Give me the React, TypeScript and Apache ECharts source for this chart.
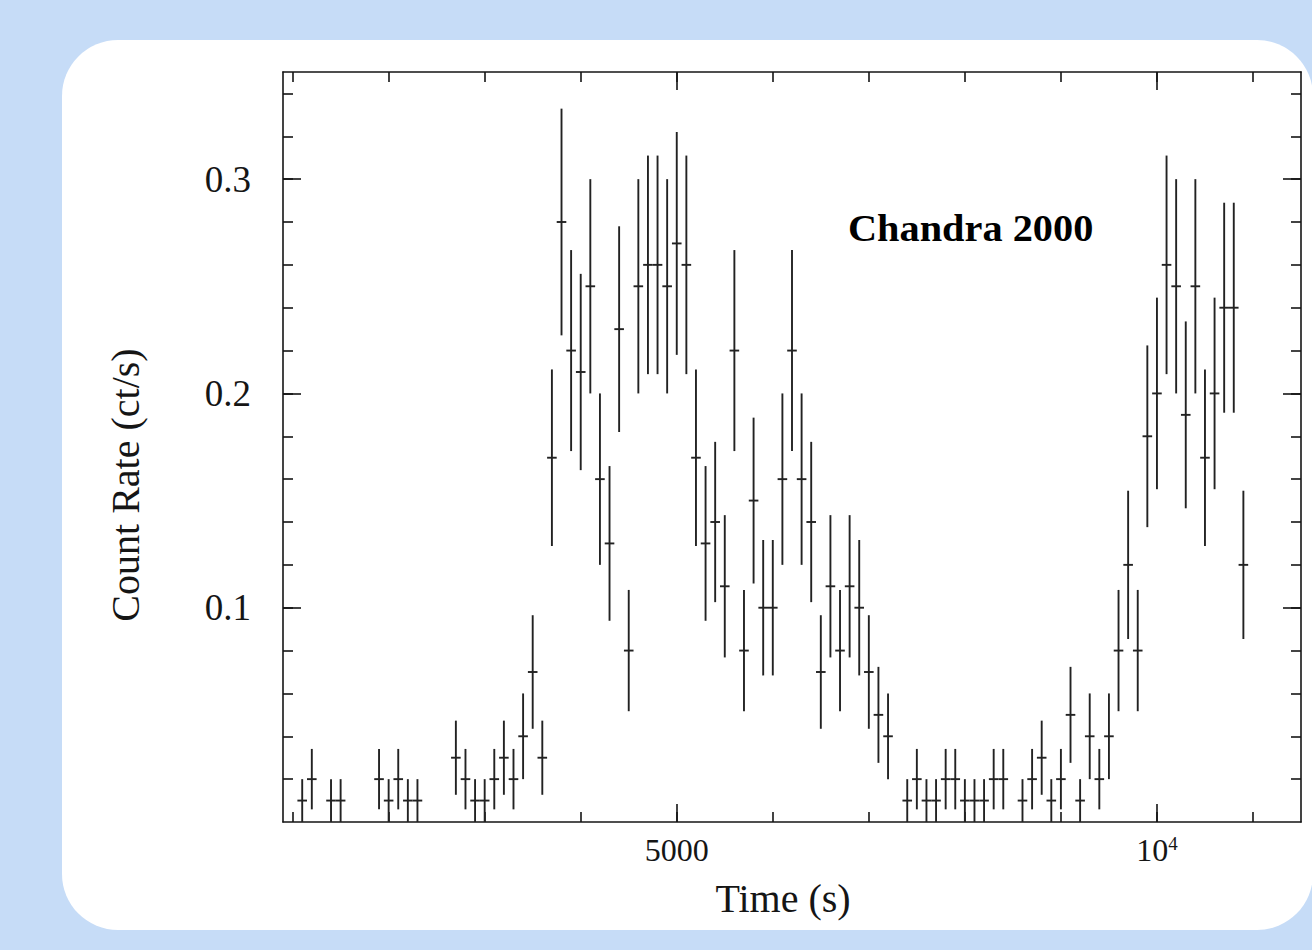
import React, { useEffect, useRef } from "react";
import * as echarts from "echarts";

// ---- data ----
const binHalfWidth = 50; // s, half of the 100 s bin
const times = [
  1100, 1200, 1400, 1500, 1900, 2000, 2100, 2200, 2300, 2700, 2800, 2900, 3000, 3100, 3200, 3300, 3400, 3500, 3600,
  3700, 3800, 3900, 4000, 4100, 4200, 4300, 4400, 4500, 4600, 4700, 4800, 4900, 5000, 5100, 5200, 5300, 5400, 5500,
  5600, 5700, 5800, 5900, 6000, 6100, 6200, 6300, 6400, 6500, 6600, 6700, 6800, 6900, 7000, 7100, 7200, 7400, 7500,
  7600, 7700, 7800, 7900, 8000, 8100, 8200, 8300, 8400, 8600, 8700, 8800, 8900, 9000, 9100, 9200, 9300, 9400, 9500,
  9600, 9700, 9800, 9900, 10000, 10100, 10200, 10300, 10400, 10500, 10600, 10700, 10800, 10900,
];
const rates = [
  0.01, 0.02, 0.01, 0.01, 0.02, 0.01, 0.02, 0.01, 0.01, 0.03, 0.02, 0.01, 0.01, 0.02, 0.03, 0.02, 0.04, 0.07, 0.03,
  0.17, 0.28, 0.22, 0.21, 0.25, 0.16, 0.13, 0.23, 0.08, 0.25, 0.26, 0.26, 0.25, 0.27, 0.26, 0.17, 0.13, 0.14, 0.11,
  0.22, 0.08, 0.15, 0.1, 0.1, 0.16, 0.22, 0.16, 0.14, 0.07, 0.11, 0.08, 0.11, 0.1, 0.07, 0.05, 0.04, 0.01, 0.02,
  0.01, 0.01, 0.02, 0.02, 0.01, 0.01, 0.01, 0.02, 0.02, 0.01, 0.02, 0.03, 0.01, 0.02, 0.05, 0.01, 0.04, 0.02, 0.04,
  0.08, 0.12, 0.08, 0.18, 0.2, 0.26, 0.25, 0.19, 0.25, 0.17, 0.2, 0.24, 0.24, 0.12,
];
const errors = [
  0.01, 0.0141, 0.01, 0.01, 0.0141, 0.01, 0.0141, 0.01, 0.01, 0.0173, 0.0141, 0.01, 0.01, 0.0141, 0.0173, 0.0141, 0.02, 0.0265, 0.0173,
  0.0412, 0.0529, 0.0469, 0.0458, 0.05, 0.04, 0.0361, 0.048, 0.0283, 0.05, 0.051, 0.051, 0.05, 0.052, 0.051, 0.0412, 0.0361, 0.0374, 0.0332,
  0.0469, 0.0283, 0.0387, 0.0316, 0.0316, 0.04, 0.0469, 0.04, 0.0374, 0.0265, 0.0332, 0.0283, 0.0332, 0.0316, 0.0265, 0.0224, 0.02, 0.01, 0.0141,
  0.01, 0.01, 0.0141, 0.0141, 0.01, 0.01, 0.01, 0.0141, 0.0141, 0.01, 0.0141, 0.0173, 0.01, 0.0141, 0.0224, 0.01, 0.02, 0.0141, 0.02,
  0.0283, 0.0346, 0.0283, 0.0424, 0.0447, 0.051, 0.05, 0.0436, 0.05, 0.0412, 0.0447, 0.049, 0.049, 0.0346,
];

// ---- axes / tick labels ----
const xMajorTicks = [5000, 10000];
const xMinorTicks = [1000, 2000, 3000, 4000, 5000, 6000, 7000, 8000, 9000, 10000, 11000];
const yMajorTicks = [0.1, 0.2, 0.3];
const yMinorTicks = [0.02, 0.04, 0.06, 0.08, 0.1, 0.12, 0.14, 0.16, 0.18, 0.2, 0.22, 0.24, 0.26, 0.28, 0.3, 0.32, 0.34];
const xTitle = "Time (s)";
const yTitle = "Count Rate (ct/s)";
const annotation = "Chandra 2000";

const INK = "#151515";
const SERIF = "'Liberation Serif', 'Times New Roman', serif";

export default function App() {
  const ref = useRef<HTMLDivElement>(null);

  useEffect(() => {
    if (!ref.current) return;
    const chart = echarts.init(ref.current, undefined, { renderer: "svg" });

    const xRange = { min: 900, max: 11500 };
    const yRange = { min: 0, max: 0.35 };

    const mkX = (position: string, ticks: number[], len: number, showLine: boolean, labels: boolean) => ({
      type: "value",
      position,
      ...xRange,
      axisLine: { show: showLine, onZero: false, lineStyle: { color: INK, width: 1.6 } },
      axisTick: { show: true, inside: true, length: len, customValues: ticks, lineStyle: { color: INK, width: 1.6 } },
      axisLabel: labels
        ? {
            show: true,
            customValues: ticks,
            margin: 12,
            color: INK,
            fontFamily: SERIF,
            fontSize: 32,
            formatter: (v: number) => (v === 10000 ? "10{sup|4}" : String(v)),
            rich: { sup: { fontSize: 19, fontFamily: SERIF, color: INK, verticalAlign: "top", padding: [0, 0, 13, 0] } },
          }
        : { show: false },
      splitLine: { show: false },
    });
    const mkY = (position: string, ticks: number[], len: number, showLine: boolean, labels: boolean) => ({
      type: "value",
      position,
      ...yRange,
      axisLine: { show: showLine, onZero: false, lineStyle: { color: INK, width: 1.6 } },
      axisTick: { show: true, inside: true, length: len, customValues: ticks, lineStyle: { color: INK, width: 1.6 } },
      axisLabel: labels
        ? { show: true, customValues: ticks, margin: 32, color: INK, fontFamily: SERIF, fontSize: 37 }
        : { show: false },
      splitLine: { show: false },
    });

    const data = times.map((t, i) => [t, rates[i], errors[i]]);

    chart.setOption({
      animation: false,
      backgroundColor: "#c6dcf7",
      grid: { left: 283, top: 72, right: 11, bottom: 128, containLabel: false },
      xAxis: [
        mkX("bottom", xMajorTicks, 18, true, true),
        mkX("bottom", xMinorTicks, 10, false, false),
        mkX("top", xMajorTicks, 18, true, false),
        mkX("top", xMinorTicks, 10, false, false),
      ],
      yAxis: [
        mkY("left", yMajorTicks, 18, true, true),
        mkY("left", yMinorTicks, 10, false, false),
        mkY("right", yMajorTicks, 18, true, false),
        mkY("right", yMinorTicks, 10, false, false),
      ],
      graphic: [
        {
          type: "rect",
          z: -100,
          shape: { x: 62, y: 40, width: 1251, height: 890, r: 56 },
          style: { fill: "#ffffff" },
          silent: true,
        },
        {
          type: "text",
          x: 783,
          y: 898,
          style: { text: xTitle, font: `40px ${SERIF}`, fill: INK, align: "center", verticalAlign: "middle" },
        },
        {
          type: "text",
          x: 125,
          y: 485,
          rotation: Math.PI / 2,
          style: { text: yTitle, font: `40px ${SERIF}`, fill: INK, align: "center", verticalAlign: "middle" },
        },
        {
          type: "text",
          x: 848,
          y: 229,
          scaleX: 1.09,
          style: { text: annotation, font: `bold 37px ${SERIF}`, fill: "#000", align: "left", verticalAlign: "middle" },
        },
      ],
      series: [
        {
          type: "custom",
          xAxisIndex: 0,
          yAxisIndex: 0,
          data,
          encode: { x: 0, y: 1 },
          renderItem: (_params: any, api: any) => {
            const t = api.value(0);
            const r = api.value(1);
            const e = api.value(2);
            const pL = api.coord([t - binHalfWidth, r]);
            const pR = api.coord([t + binHalfWidth, r]);
            const pT = api.coord([t, r + e]);
            const pB = api.coord([t, r - e]);
            const style = { stroke: "#222222", lineWidth: 1.9 };
            return {
              type: "group",
              children: [
                { type: "line", shape: { x1: pL[0], y1: pL[1], x2: pR[0], y2: pR[1] }, style },
                { type: "line", shape: { x1: pT[0], y1: pT[1], x2: pB[0], y2: pB[1] }, style },
              ],
            };
          },
        },
      ],
    });

    return () => chart.dispose();
  }, []);

  return <div ref={ref} style={{ position: "fixed", left: 0, top: 0, width: 1312, height: 950 }} />;
}
